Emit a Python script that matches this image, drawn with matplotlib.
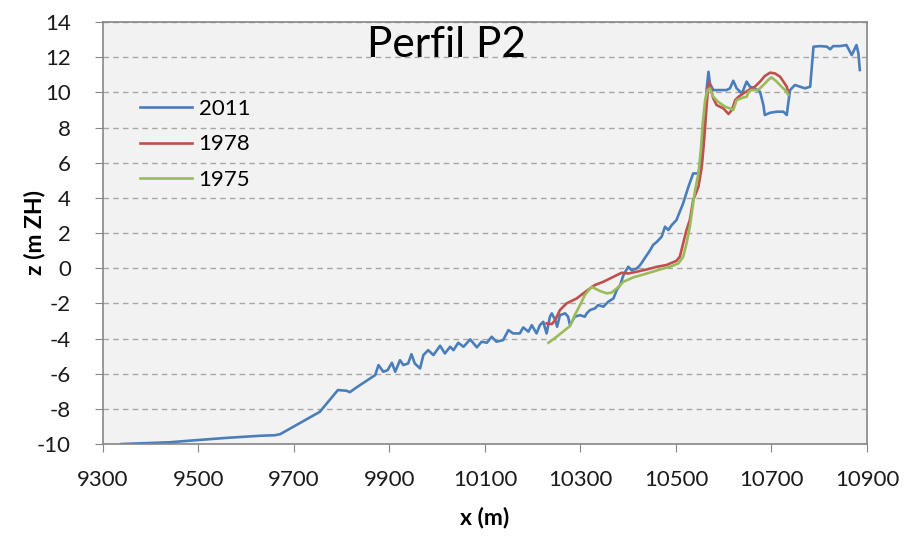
import matplotlib
matplotlib.use('Agg')
import matplotlib.pyplot as plt

plt.rcParams['font.family'] = ['Lato', 'DejaVu Sans']
plt.rcParams['axes.unicode_minus'] = False

# profile 2011
x_2011 = [9339, 9370, 9440, 9486, 9559, 9629, 9660, 9671, 9754, 9792, 9810, 9817, 9831, 9870,
          9877, 9887, 9896, 9905, 9912, 9922, 9929, 9939, 9946, 9953, 9964, 9971, 9981, 9992,
          10006, 10016, 10027, 10034, 10044, 10055, 10069, 10083, 10093, 10104, 10114, 10124,
          10138, 10149, 10159, 10173, 10180, 10191, 10198, 10208, 10215,
          10222, 10229, 10236, 10240, 10247, 10251, 10257, 10268, 10274, 10278, 10288, 10299,
          10309, 10313, 10320, 10330, 10337, 10348, 10358, 10369, 10376, 10383, 10390, 10400,
          10407, 10418, 10425, 10432, 10439, 10446, 10452, 10460, 10470, 10477, 10484, 10491,
          10501, 10515, 10526, 10536, 10547, 10554, 10557, 10561, 10564, 10568, 10571, 10578,
          10592, 10606, 10613, 10620, 10627, 10638, 10648, 10655, 10665, 10676, 10683, 10686,
          10697, 10711, 10725, 10732, 10735, 10739, 10749, 10760, 10770, 10781, 10788, 10802,
          10816, 10823, 10829, 10843, 10857, 10868, 10878, 10882, 10885]
z_2011 = [-10.0, -9.97, -9.9, -9.8, -9.65, -9.53, -9.5, -9.44, -8.17, -6.93, -6.97, -7.05, -6.78, -6.08,
          -5.51, -5.89, -5.8, -5.38, -5.89, -5.23, -5.51, -5.42, -4.89, -5.42, -5.7, -4.94, -4.66, -4.94,
          -4.41, -4.85, -4.47, -4.66, -4.24, -4.47, -4.05, -4.5, -4.18, -4.24, -3.9, -4.18,
          -4.09, -3.52, -3.71, -3.71, -3.37, -3.61, -3.24, -3.71, -3.24,
          -3.05, -3.71, -2.76, -2.57, -2.95, -3.33, -2.67, -2.57, -2.76, -3.24, -2.76, -2.67,
          -2.76, -2.57, -2.38, -2.29, -2.1, -2.19, -1.91, -1.72, -1.24, -0.96, -0.39, 0.08,
          -0.11, -0.01, 0.18, 0.46, 0.75, 1.03, 1.32, 1.5, 1.79, 2.36, 2.17, 2.45,
          2.74, 3.69, 4.63, 5.39, 5.39, 6.15, 7.29, 8.61, 10.13, 11.17, 10.51, 10.13,
          10.13, 10.13, 10.23, 10.66, 10.23, 9.94, 10.61, 10.32, 10.23, 10.04, 9.28, 8.71,
          8.84, 8.9, 8.9, 8.71, 9.37, 10.13, 10.42, 10.32, 10.23, 10.32, 12.6, 12.63,
          12.6, 12.45, 12.63, 12.63, 12.69, 12.12, 12.69, 12.22, 11.27]

# profile 1978
x_1978 = [10229, 10240, 10247, 10257, 10271, 10292, 10306, 10320, 10330, 10348,
          10369, 10386, 10400, 10418, 10439, 10460, 10480, 10501, 10508, 10515,
          10522, 10529, 10536, 10547, 10554, 10559, 10563, 10568, 10573, 10578,
          10585, 10599, 10610, 10617, 10624, 10631, 10641, 10652, 10665, 10676,
          10686, 10697, 10707, 10718, 10725, 10732, 10735]
z_1978 = [-3.14, -3.18, -2.95, -2.38, -2.0, -1.72, -1.43, -1.15, -0.96, -0.77,
          -0.49, -0.26, -0.30, -0.2, -0.07, 0.08, 0.18, 0.42, 0.65, 1.41,
          2.17, 2.74, 3.87, 4.63, 5.77, 7.29, 8.8, 10.61, 10.23, 9.66,
          9.28, 9.09, 8.77, 9.0, 9.56, 9.75, 9.94, 10.13, 10.32, 10.61,
          10.93, 11.12, 11.08, 10.89, 10.61, 10.32, 10.04]

# profile 1975
x_1975 = [10233, 10250, 10278, 10288, 10299, 10309, 10323, 10330, 10341, 10355,
          10365, 10376, 10390, 10411, 10439, 10467, 10487, 10505, 10515, 10522, 10529,
          10540, 10547, 10552, 10556, 10561, 10566, 10571, 10578, 10588, 10603,
          10613, 10620, 10627, 10641, 10648, 10652, 10658, 10672, 10683, 10693,
          10700, 10711, 10721, 10732, 10735]
z_1975 = [-4.24, -3.90, -3.29, -2.67, -2.1, -1.53, -1.06, -1.15, -1.3, -1.43,
          -1.39, -1.15, -0.77, -0.52, -0.30, -0.07, 0.08, 0.27, 0.65, 1.41, 2.36,
          4.44, 5.39, 6.72, 8.24, 9.56, 10.13, 10.23, 9.75, 9.47, 9.18,
          9.09, 9.0, 9.56, 9.71, 9.75, 10.04, 10.13, 10.13, 10.42, 10.7,
          10.85, 10.61, 10.32, 10.04, 9.85]

x_ticks = list(range(9300, 10901, 200))
y_ticks = list(range(-10, 15, 2))

fig = plt.figure(figsize=(9.05, 5.36), dpi=100)
ax = fig.add_axes([0.1138, 0.1716, 0.8442, 0.7873])
ax.set_facecolor('#F2F2F2')

ax.plot(x_2011, z_2011, color='#4A7EBB', lw=1.9, label='2011')
ax.plot(x_1978, z_1978, color='#C0504D', lw=1.9, label='1978')
ax.plot(x_1975, z_1975, color='#9BBB59', lw=1.9, label='1975')

ax.set_xlim(9300, 10900)
ax.set_ylim(-10, 14)
ax.set_xticks(x_ticks)
ax.set_yticks(y_ticks)
ax.yaxis.grid(True, color='#A6A6A6', linestyle=(0, (4, 3)), lw=1.0)
ax.set_axisbelow(True)
ax.tick_params(labelsize=16, length=6, color='#868686', labelcolor='#1a1a1a')
ax.tick_params(axis='x', pad=13)
ax.tick_params(axis='y', pad=17)
for s in ax.spines.values():
    s.set_color('#868686')
    s.set_linewidth(1.2)

ax.set_xlabel('x (m)', fontsize=16.5, fontweight='bold')
ax.set_ylabel('z (m ZH)', fontsize=16.5, fontweight='bold')
ax.xaxis.set_label_coords(0.5, -0.148)
ax.yaxis.set_label_coords(-0.075, 0.502)
ax.text(0.449, 0.917, 'Perfil P2', transform=ax.transAxes, fontsize=30.5,
        ha='center', va='baseline')

ax.legend(loc='upper left', bbox_to_anchor=(0.048, 0.818), frameon=False,
          fontsize=16, handlelength=2.35, labelspacing=0.7, handletextpad=0.3,
          borderpad=0, borderaxespad=0)

fig.savefig('out.png', dpi=100)
